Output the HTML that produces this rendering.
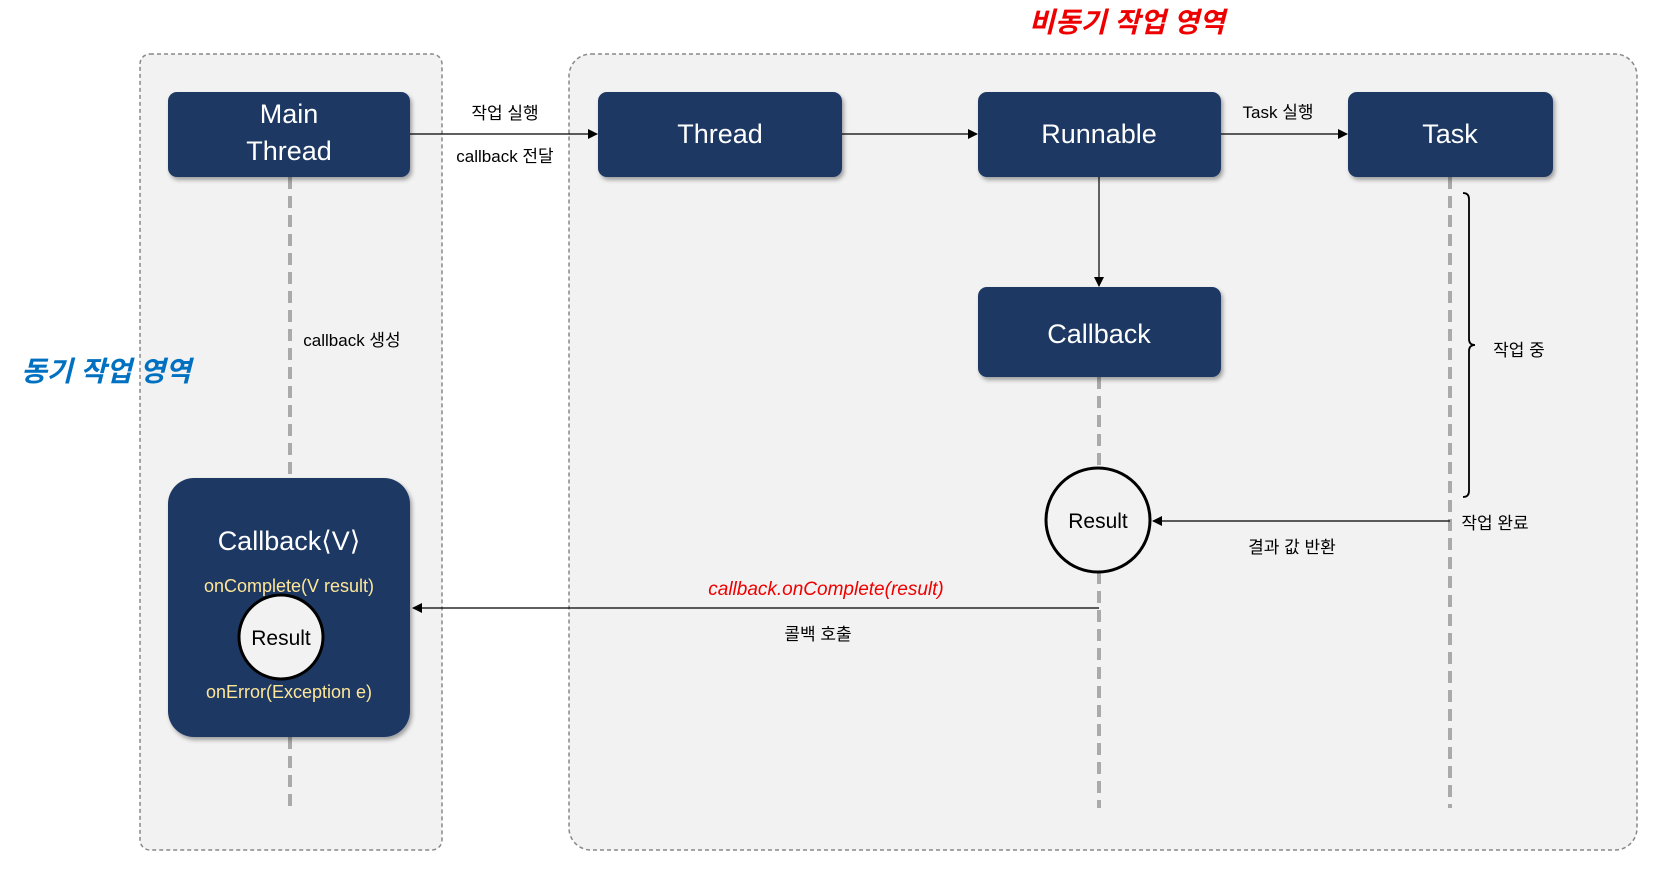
<!DOCTYPE html>
<html><head><meta charset="utf-8"><style>
body{margin:0;width:1675px;height:879px;background:#fff;overflow:hidden}
svg{display:block}
text{font-family:"Liberation Sans","Noto Sans CJK KR",sans-serif}
</style></head><body>
<svg width="1675" height="879" viewBox="0 0 1675 879" xmlns="http://www.w3.org/2000/svg">
<defs>
<marker id="ah" markerWidth="10" markerHeight="10" refX="9" refY="5" orient="auto" markerUnits="userSpaceOnUse"><path d="M0,0 L10,5 L0,10 z" fill="#000"/></marker>
<filter id="sh" x="-10%" y="-10%" width="125%" height="130%"><feDropShadow dx="2" dy="3" stdDeviation="2" flood-color="#000" flood-opacity="0.35"/></filter>
</defs>
<rect x="140" y="54" width="302" height="796" rx="10" fill="#f2f2f2" stroke="#888" stroke-width="1.5" stroke-dasharray="4,3"/>
<rect x="569" y="54" width="1068" height="796" rx="22" fill="#f2f2f2" stroke="#888" stroke-width="1.5" stroke-dasharray="4,3"/>

<g stroke="#aaa" stroke-width="4" stroke-dasharray="12,7">
<line x1="290" y1="177" x2="290" y2="478"/>
<line x1="290" y1="737" x2="290" y2="808"/>
<line x1="1099" y1="377" x2="1099" y2="468"/>
<line x1="1099" y1="572" x2="1099" y2="808"/>
<line x1="1450" y1="177" x2="1450" y2="808"/>
</g>

<g stroke="#000" stroke-width="1.2" fill="none">
<line x1="410" y1="134" x2="597" y2="134" marker-end="url(#ah)"/>
<line x1="842" y1="134" x2="977" y2="134" marker-end="url(#ah)"/>
<line x1="1221" y1="134" x2="1347" y2="134" marker-end="url(#ah)"/>
<line x1="1099" y1="177" x2="1099" y2="286" marker-end="url(#ah)"/>
<line x1="1450" y1="521" x2="1153" y2="521" marker-end="url(#ah)"/>
<line x1="1099" y1="608" x2="413" y2="608" marker-end="url(#ah)"/>
<path d="M1463,193 q6,0 6,6 v140 q0,6 6,6 q-6,0 -6,6 v140 q0,6 -6,6" stroke-width="1.8"/>
</g>

<g fill="#1f3864" filter="url(#sh)">
<rect x="168" y="92" width="242" height="85" rx="9"/>
<rect x="598" y="92" width="244" height="85" rx="9"/>
<rect x="978" y="92" width="243" height="85" rx="9"/>
<rect x="1348" y="92" width="205" height="85" rx="9"/>
<rect x="978" y="287" width="243" height="90" rx="9"/>
<rect x="168" y="478" width="242" height="259" rx="26"/>
</g>
<g fill="#fff" font-size="27" text-anchor="middle">
<text x="289" y="123">Main</text>
<text x="289" y="160">Thread</text>
<text x="720" y="143">Thread</text>
<text x="1099" y="143">Runnable</text>
<text x="1450" y="143">Task</text>
<text x="1099" y="343">Callback</text>
<text x="289" y="550" font-size="27">Callback⟨V⟩</text>
</g>
<g fill="#ffe699" font-size="18" text-anchor="middle">
<text x="289" y="592">onComplete(V result)</text>
<text x="289" y="698">onError(Exception e)</text>
</g>
<circle cx="281" cy="637" r="42" fill="#f2f2f2" stroke="#000" stroke-width="3"/>
<text x="281" y="645" font-size="21" text-anchor="middle">Result</text>
<circle cx="1098" cy="520" r="52" fill="#f2f2f2" stroke="#000" stroke-width="3"/>
<text x="1098" y="528" font-size="21" text-anchor="middle">Result</text>

<g font-size="17" fill="#000" text-anchor="middle">
<text x="505" y="119">작업 실행</text>
<text x="505" y="162">callback 전달</text>
<text x="1278" y="118">Task 실행</text>
<text x="352" y="346">callback 생성</text>
<text x="1519" y="356">작업 중</text>
<text x="1495" y="529">작업 완료</text>
<text x="1292" y="553">결과 값 반환</text>
<text x="818" y="640">콜백 호출</text>
</g>
<text x="826" y="595" font-size="19" fill="#e00" font-style="italic" text-anchor="middle">callback.onComplete(result)</text>
<text x="1127" y="32" font-size="28" fill="#e00" font-weight="bold" font-style="italic" text-anchor="middle">비동기 작업 영역</text>
<text x="106" y="381" font-size="28" fill="#0070c0" font-weight="bold" font-style="italic" text-anchor="middle">동기 작업 영역</text>
</svg>
</body></html>
